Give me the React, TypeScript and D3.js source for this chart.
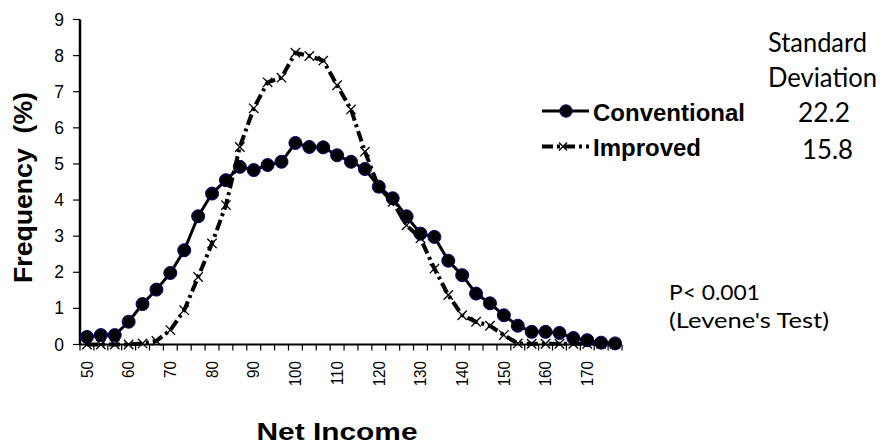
import React from "react";
import * as d3 from "d3";

const incomeBins = [
  50, 53.3, 56.7, 60, 63.3, 66.7, 70, 73.3, 76.7, 80, 83.3, 86.7, 90, 93.3, 96.7,
  100, 103.3, 106.7, 110, 113.3, 116.7, 120, 123.3, 126.7, 130, 133.3, 136.7,
  140, 143.3, 146.7, 150, 153.3, 156.7, 160, 163.3, 166.7, 170, 173.3, 176.7,
];
const tickLabels = ["50", "60", "70", "80", "90", "100", "110", "120", "130", "140", "150", "160", "170"];
const conventional = [
  0.21, 0.26, 0.26, 0.63, 1.12, 1.52, 1.98, 2.61, 3.55, 4.18, 4.55, 4.92, 4.83, 4.97, 5.06,
  5.58, 5.47, 5.46, 5.24, 5.06, 4.86, 4.37, 4.05, 3.55, 3.07, 2.98, 2.32, 1.92, 1.41, 1.14,
  0.81, 0.52, 0.35, 0.35, 0.32, 0.18, 0.12, 0.05, 0.03,
];
const improved = [
  0.0, 0.0, 0.0, 0.0, 0.03, 0.1, 0.4, 0.95, 1.87, 2.8, 3.86, 5.47, 6.54, 7.26, 7.39,
  8.08, 7.99, 7.86, 7.18, 6.51, 5.34, 4.35, 3.95, 3.3, 2.94, 2.1, 1.37, 0.81, 0.63, 0.52,
  0.26, 0.03, 0.02, 0.02, 0.02, 0.02, 0.02, 0.02, 0.02,
];
const seriesNames = ["Conventional", "Improved"];
const sdValues = ["22.2", "15.8"];

const W = 881;
const H = 445;
const ARIAL = "'Liberation Sans', Arial, sans-serif";
const CAL = "Lato, 'Open Sans', sans-serif";

export default function App() {
  const idx = incomeBins.map((_, i) => i);
  const x = d3.scaleBand<number>().domain(idx).range([80, 622]).padding(0);
  const bw = x.bandwidth();
  const cx = (i: number) => (x(i) as number) + bw / 2;
  const y = d3.scaleLinear().domain([0, 9]).range([344.5, 19.5]);

  const line = d3
    .line<number>()
    .x((_, i) => cx(i))
    .y((d) => y(d));

  const yTicks = y.ticks(9);
  const dash = "11,4,3,4";

  const xMark = (px: number, py: number, s: number, key: any) => (
    <path
      key={key}
      d={`M${px - s},${py - s}L${px + s},${py + s}M${px - s},${py + s}L${px + s},${py - s}`}
      stroke="#000"
      strokeWidth={1.3}
      fill="none"
    />
  );

  return (
    <svg
      width={W}
      height={H}
      style={{ position: "absolute", left: 0, top: 0, background: "#fff" }}
    >
      <rect x={0} y={0} width={W} height={H} fill="#fff" />
      {/* y axis */}
      <line x1={80} x2={80} y1={y(9)} y2={y(0)} stroke="#000" strokeWidth={2.5} />
      {yTicks.map((t) => (
        <g key={t}>
          <line x1={73} x2={80} y1={y(t)} y2={y(t)} stroke="#000" strokeWidth={1.2} />
          <text
            x={64}
            y={y(t)}
            textAnchor="end"
            dominantBaseline="central"
            fontFamily={ARIAL}
            fontSize={17.5}
            fill="#000"
          >
            {t}
          </text>
        </g>
      ))}
      {/* x axis */}
      <line x1={80} x2={622} y1={y(0)} y2={y(0)} stroke="#000" strokeWidth={2} />
      {d3.range(incomeBins.length + 1).map((i) => {
        const px = 80 + i * bw;
        return <line key={i} x1={px} x2={px} y1={y(0)} y2={y(0) + 6} stroke="#000" strokeWidth={1.2} />;
      })}
      {tickLabels.map((lab, k) => {
        const px = cx(k * 3);
        return (
          <text
            key={lab}
            transform={`translate(${px},361) rotate(-90) scale(0.92,1)`}
            textAnchor="end"
            dominantBaseline="central"
            fontFamily={ARIAL}
            fontSize={16.5}
            fill="#000"
          >
            {lab}
          </text>
        );
      })}
      {/* conventional */}
      <path d={line(conventional) || ""} fill="none" stroke="#000" strokeWidth={3} />
      {conventional.map((v, i) => (
        <circle key={i} cx={cx(i)} cy={y(v)} r={6.5} fill="#000" stroke="#00007f" strokeWidth={1} />
      ))}
      {/* improved */}
      <path
        d={line(improved) || ""}
        fill="none"
        stroke="#000"
        strokeWidth={4}
        strokeDasharray={dash}
      />
      {improved.map((v, i) => xMark(cx(i), y(v), 4.7, i))}

      {/* axis titles */}
      <text
        transform={`translate(31.5,187.5) rotate(-90)`}
        textAnchor="middle"
        fontFamily={ARIAL}
        fontWeight="bold"
        fontSize={25}
        textLength={191}
        lengthAdjust="spacingAndGlyphs"
        fill="#000"
        style={{ whiteSpace: "pre" }}
      >
        {"Frequency  (%)"}
      </text>
      <text
        x={337}
        y={440}
        textAnchor="middle"
        fontFamily={ARIAL}
        fontWeight="bold"
        fontSize={24}
        textLength={161}
        lengthAdjust="spacingAndGlyphs"
        fill="#000"
      >
        Net Income
      </text>

      {/* legend */}
      <line x1={542} x2={589} y1={111} y2={111} stroke="#000" strokeWidth={3} />
      <circle cx={566} cy={111} r={6.2} fill="#000" stroke="#00007f" strokeWidth={1} />
      <text x={593} y={120.5} fontFamily={ARIAL} fontWeight="bold" fontSize={24} fill="#000">
        {seriesNames[0]}
      </text>
      <line x1={542} x2={589} y1={146.5} y2={146.5} stroke="#000" strokeWidth={4} strokeDasharray={dash} />
      {xMark(563, 146.5, 4, "lg")}
      <text x={593} y={156} fontFamily={ARIAL} fontWeight="bold" fontSize={24} fill="#000">
        {seriesNames[1]}
      </text>

      {/* right annotations */}
      <text x={768} y={52} fontFamily={CAL} fontSize={26} textLength={99} lengthAdjust="spacingAndGlyphs" fill="#000">
        Standard
      </text>
      <text x={768} y={87} fontFamily={CAL} fontSize={26} textLength={109} lengthAdjust="spacingAndGlyphs" fill="#000">
        Deviation
      </text>
      <text x={798} y={122} fontFamily={CAL} fontSize={26} textLength={52} lengthAdjust="spacingAndGlyphs" fill="#000">
        {sdValues[0]}
      </text>
      <text x={802} y={159} fontFamily={CAL} fontSize={26} textLength={51} lengthAdjust="spacingAndGlyphs" fill="#000">
        {sdValues[1]}
      </text>
      <text x={669} y={300} fontFamily={CAL} fontSize={22} textLength={91} lengthAdjust="spacingAndGlyphs" fill="#000" style={{ whiteSpace: "pre" }}>
        {"P< 0.001"}
      </text>
      <text x={669} y={328} fontFamily={CAL} fontSize={22} textLength={160} lengthAdjust="spacingAndGlyphs" fill="#000">
        (Levene's Test)
      </text>
    </svg>
  );
}
